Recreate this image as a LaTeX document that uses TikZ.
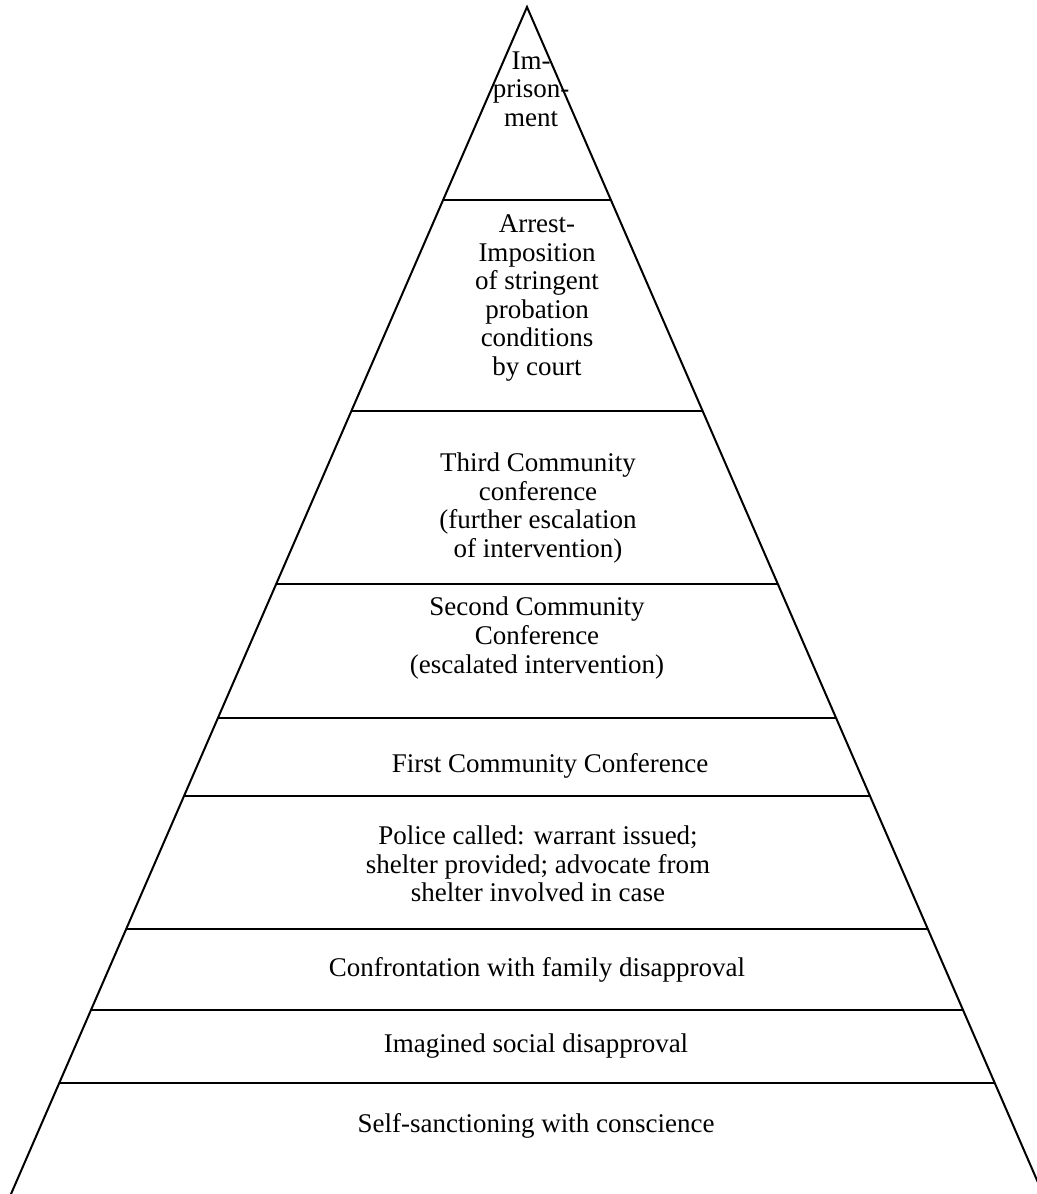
\documentclass[tikz,border=0pt]{standalone}
\usepackage{fontspec}
\setmainfont{Liberation Serif}
\usetikzlibrary{calc}

\begin{document}
\begin{tikzpicture}[x=0.5pt,y=-0.5pt,
  tier/.style={align=center,inner sep=0pt,font=\fontsize{13.5}{14.3}\selectfont}]
  \useasboundingbox (0,0) rectangle (1037,1194);
  \def\h{1187}
    \coordinate (apex) at (527,7);
    \coordinate (bl) at (11,1194);
    \coordinate (br) at (1043,1194);
    \draw[line width=1pt](bl) -- (apex) -- (br);

    % tier borders
    \foreach \y in {200,411,584,718,796,929,1010,1083}
      \draw[line width=1pt]($(apex)!{(\y-7)/\h}!(bl)$) -- ($(apex)!{(\y-7)/\h}!(br)$);

    \node[tier] (prison) at (531,89) {Im-\\prison-\\ment};
    \node[tier] (arrest) at (537,298) {Arrest-\\Imposition\\of stringent\\probation\\conditions\\by court};
    \node[tier] (third)  at (538,508) {Third Community\\conference\\(further escalation\\of intervention)};
    \node[tier] (second) at (537,638) {Second Community\\Conference\\(escalated intervention)};
    \node[tier] (first)  at (550,766) {First Community Conference};
    \node[tier] (police) at (538,864) {Police called: warrant issued;\\shelter provided; advocate from\\shelter involved in case};
    \node[tier] (family) at (537,970) {Confrontation with family disapproval};
    \node[tier] (social) at (536,1046) {Imagined social disapproval};
    \node[tier] (self)   at (536,1126) {Self-sanctioning with conscience};
\end{tikzpicture}
\end{document}
